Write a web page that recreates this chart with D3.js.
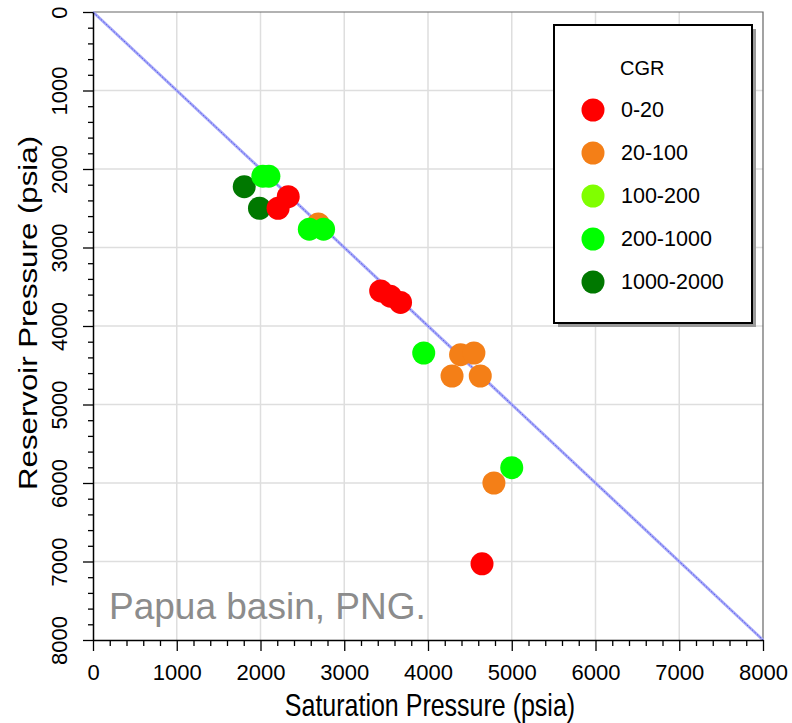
<!DOCTYPE html>
<html>
<head>
<meta charset="utf-8">
<script src="https://cdn.jsdelivr.net/npm/d3@7"></script>
<style>
  body { margin: 0; background: #fff; }
  text { font-family: "Liberation Sans", Arial, sans-serif; }
</style>
</head>
<body>
<svg id="chart" width="792" height="723"></svg>
<script>
// CGR groups and colours
const categories = ["0-20", "20-100", "100-200", "200-1000", "1000-2000"];
const colors = ["#ff0000", "#f47f17", "#80ff00", "#00ff00", "#007800"];

// [saturation pressure, reservoir pressure] (psia) per group
const cgr0_20 = [[2331, 2352], [2210, 2500], [3435, 3554], [3550, 3620], [3672, 3700], [4645, 7030]];
const cgr20_100 = [[2690, 2700], [4389, 4365], [4548, 4344], [4287, 4637], [4624, 4637], [4787, 6000]];
const cgr100_200 = [];
const cgr200_1000 = [[2028, 2092], [2100, 2092], [2583, 2767], [2753, 2767], [3949, 4344], [5000, 5805]];
const cgr1000_2000 = [[1806, 2225], [1988, 2500]];

const majorTicks = [0, 1000, 2000, 3000, 4000, 5000, 6000, 7000, 8000];

const seriesData = [cgr0_20, cgr20_100, cgr100_200, cgr200_1000, cgr1000_2000];
// drawing order (back to front)
const drawOrder = [4, 1, 0, 2, 3];

const svg = d3.select("#chart");
const x = d3.scaleLinear().domain([0, 8000]).range([93, 763]);
const y = d3.scaleLinear().domain([0, 8000]).range([12, 640]);

// gridlines
svg.append("g").selectAll("line.vg")
    .data(majorTicks.slice(1, -1)).enter().append("line")
    .attr("x1", d => x(d)).attr("x2", d => x(d))
    .attr("y1", y(0)).attr("y2", y(8000))
    .attr("stroke", "#dedede").attr("stroke-width", 1.5);
svg.append("g").selectAll("line.hg")
    .data(majorTicks.slice(1, -1)).enter().append("line")
    .attr("y1", d => y(d)).attr("y2", d => y(d))
    .attr("x1", x(0)).attr("x2", x(8000))
    .attr("stroke", "#dedede").attr("stroke-width", 1.5);

// top and right frame
svg.append("path")
    .attr("d", `M${x(0)},${y(0)}H${x(8000)}V${y(8000)}`)
    .attr("fill", "none").attr("stroke", "#666").attr("stroke-width", 1.2);

// 1:1 line
svg.append("line")
    .attr("x1", x(0)).attr("y1", y(0)).attr("x2", x(8000)).attr("y2", y(8000))
    .attr("stroke", "#a8aaf8").attr("stroke-width", 3);
svg.append("line")
    .attr("x1", x(0)).attr("y1", y(0)).attr("x2", x(8000)).attr("y2", y(8000))
    .attr("stroke", "#5a5cee").attr("stroke-width", 1).attr("stroke-dasharray", "2,1.5");

// minor ticks
const minorTicks = d3.range(0, 8001, 200).filter(d => d % 1000 !== 0);
svg.append("g")
    .attr("transform", `translate(0,${y(8000)})`)
    .call(d3.axisBottom(x).tickValues(minorTicks).tickSize(6).tickFormat(""))
    .call(g => g.select(".domain").remove());
svg.append("g")
    .attr("transform", `translate(${x(0)},0)`)
    .call(d3.axisLeft(y).tickValues(minorTicks).tickSize(5).tickFormat(""))
    .call(g => g.select(".domain").remove());

// major axes
const xAxis = svg.append("g")
    .attr("transform", `translate(0,${y(8000)})`)
    .call(d3.axisBottom(x).tickValues(majorTicks).tickSize(11).tickSizeOuter(0).tickFormat(d3.format("d")));
xAxis.selectAll("text")
    .attr("font-size", 22).attr("fill", "#000")
    .attr("dy", null).attr("y", 40);

const yAxis = svg.append("g")
    .attr("transform", `translate(${x(0)},0)`)
    .call(d3.axisLeft(y).tickValues(majorTicks).tickSize(10).tickSizeOuter(0).tickFormat(d3.format("d")));
yAxis.selectAll("text")
    .attr("font-size", 22).attr("fill", "#000")
    .attr("x", null).attr("dy", null)
    .attr("text-anchor", "middle")
    .attr("transform", "translate(-26,0) rotate(-90)");
svg.selectAll(".domain").attr("stroke-width", 1.5);
svg.selectAll(".tick line").attr("stroke-width", 1.3);

// points
drawOrder.forEach(i => {
    svg.append("g").selectAll("circle")
        .data(seriesData[i]).enter().append("circle")
        .attr("cx", d => x(d[0]))
        .attr("cy", d => y(d[1]))
        .attr("r", 11.5)
        .attr("fill", colors[i]);
});

// annotation
svg.append("text")
    .attr("x", 109).attr("y", 619)
    .attr("font-size", 37).attr("fill", "#8c8c8c")
    .text("Papua basin, PNG.");

// axis titles
svg.append("text")
    .attr("transform", "translate(430,716) scale(1,1.22)")
    .attr("text-anchor", "middle")
    .attr("font-size", 25)
    .text("Saturation Pressure (psia)");
svg.append("text")
    .attr("transform", "translate(37,313) rotate(-90) scale(1.25,1)")
    .attr("text-anchor", "middle")
    .attr("font-size", 25)
    .text("Reservoir Pressure (psia)");

// legend
const lg = svg.append("g");
lg.append("rect")
    .attr("x", 558).attr("y", 29).attr("width", 198).attr("height", 298)
    .attr("fill", "#9a9a9a");
lg.append("rect")
    .attr("x", 554).attr("y", 25).attr("width", 198).attr("height", 298)
    .attr("fill", "#fff").attr("stroke", "#000").attr("stroke-width", 2);
lg.append("text")
    .attr("x", 620).attr("y", 75)
    .attr("font-size", 20)
    .text("CGR");
const items = lg.selectAll("g.item")
    .data(categories).enter().append("g")
    .attr("transform", (d, i) => `translate(593,${110 + i * 43})`);
items.append("circle")
    .attr("r", 11.5)
    .attr("fill", (d, i) => colors[i]);
items.append("text")
    .attr("x", 28).attr("y", 7)
    .attr("font-size", 21.5)
    .text(d => d);
</script>
</body>
</html>
